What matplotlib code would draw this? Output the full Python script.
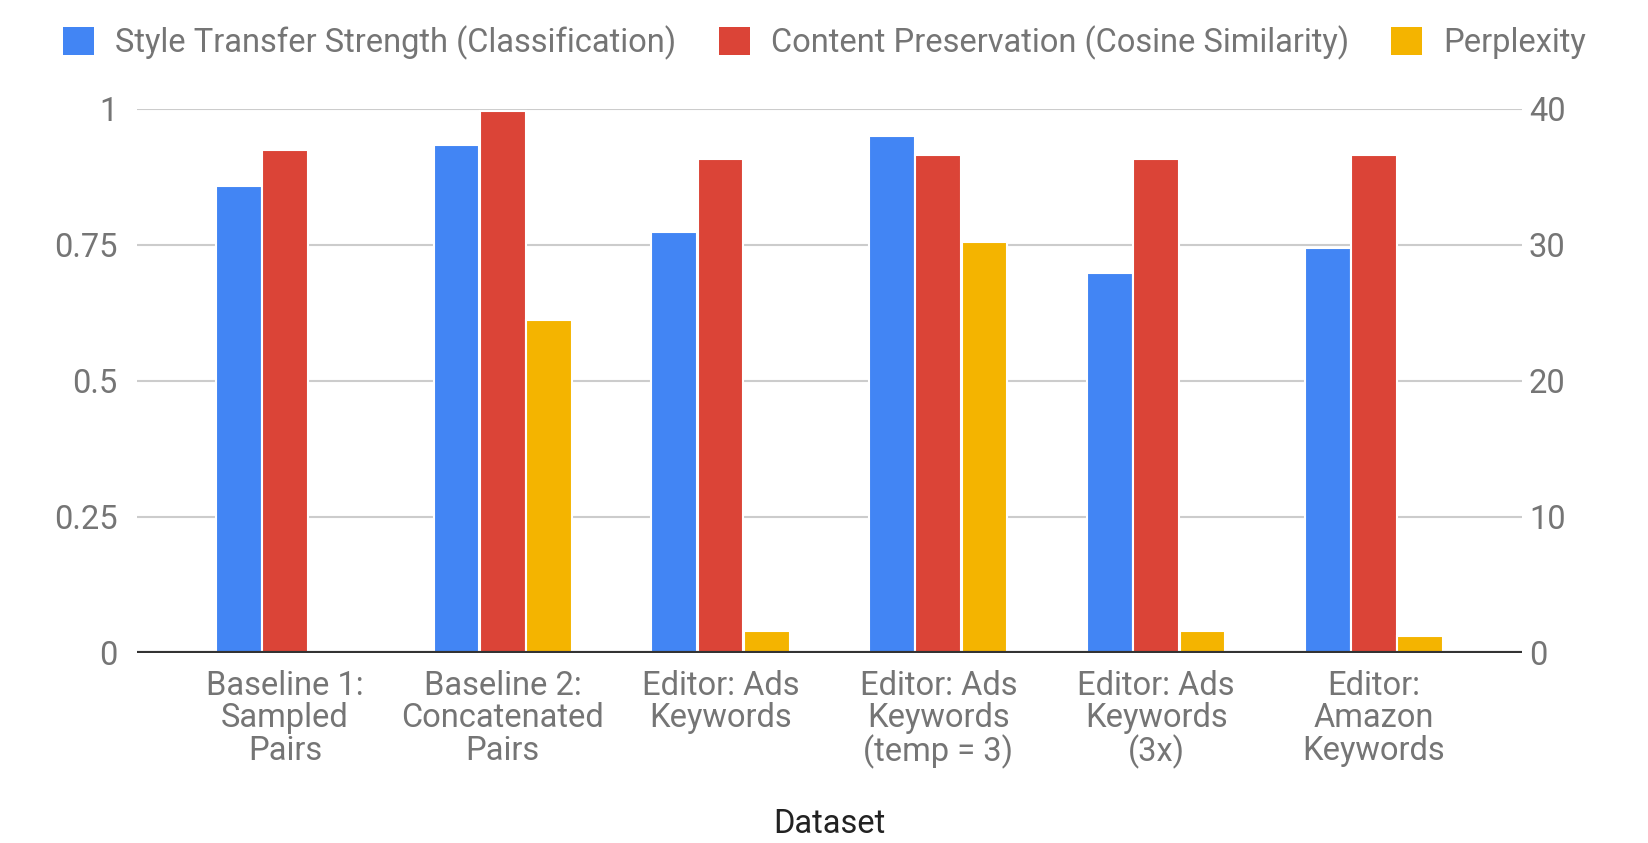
import matplotlib.pyplot as plt
import numpy as np
from matplotlib.patches import Patch

plt.rcParams.update({'font.family': ['Roboto', 'DejaVu Sans'], 'font.size': 23.5})

categories = ["Baseline 1:\nSampled\nPairs", "Baseline 2:\nConcatenated\nPairs",
              "Editor: Ads\nKeywords", "Editor: Ads\nKeywords\n(temp = 3)",
              "Editor: Ads\nKeywords\n(3x)", "Editor:\nAmazon\nKeywords"]
style_strength = [0.859, 0.934, 0.774, 0.950, 0.698, 0.745]
content_pres = [0.925, 0.996, 0.909, 0.915, 0.909, 0.915]
perplexity = [0, 24.5, 1.6, 30.2, 1.6, 1.25]

blue = "#4285F4"
red = "#DB4437"
yellow = "#F4B400"
grey = "#757575"

fig = plt.figure(figsize=(16.49, 8.43), dpi=100)
ax = fig.add_axes([0.083, 0.2254, 0.84, 0.6453])
ax2 = ax.twinx()

x = np.arange(len(categories))
w = 0.21
off = 0.2125
ax.bar(x - off, style_strength, w, color=blue, edgecolor="white", linewidth=1.5, zorder=3)
ax.bar(x, content_pres, w, color=red, edgecolor="white", linewidth=1.5, zorder=3)
ax2.bar(x + off, perplexity, w, color=yellow, edgecolor="white", linewidth=1.5, zorder=3)

ax.set_xlim(-0.68, 5.68)
ax.set_ylim(0, 1)
ax2.set_ylim(0, 40)
ax.set_yticks([0, 0.25, 0.5, 0.75, 1])
ax.set_yticklabels(["0", "0.25", "0.5", "0.75", "1"])
ax2.set_yticks([0, 10, 20, 30, 40])

ax.grid(axis="y", color="#cccccc", linewidth=1.5, zorder=0)
# zero line on top of everything
ax2.axhline(0, color="#333333", linewidth=3, zorder=5)
for a in (ax, ax2):
    for s in a.spines.values():
        s.set_visible(False)
    a.tick_params(length=0, colors=grey, labelsize=23.5)
ax.tick_params(axis="y", pad=14)
ax2.tick_params(axis="y", pad=5)

ax.set_xticks(x)
ax.set_xticklabels(categories, linespacing=1.02)
ax.tick_params(axis="x", pad=12)
ax.set_xlabel("Dataset", color="#222222", fontsize=23.5, labelpad=28)

handles = [Patch(facecolor=blue), Patch(facecolor=red), Patch(facecolor=yellow)]
labels = ["Style Transfer Strength (Classification)",
          "Content Preservation (Cosine Similarity)", "Perplexity"]
leg = fig.legend(handles, labels, loc="upper center", bbox_to_anchor=(0.5, 1.005), ncol=3,
                 frameon=False, handlelength=0.95, handleheight=0.95, handletextpad=0.65,
                 columnspacing=1.3, fontsize=23.5)
for t in leg.get_texts():
    t.set_color(grey)

fig.savefig("out.png", dpi=100)
